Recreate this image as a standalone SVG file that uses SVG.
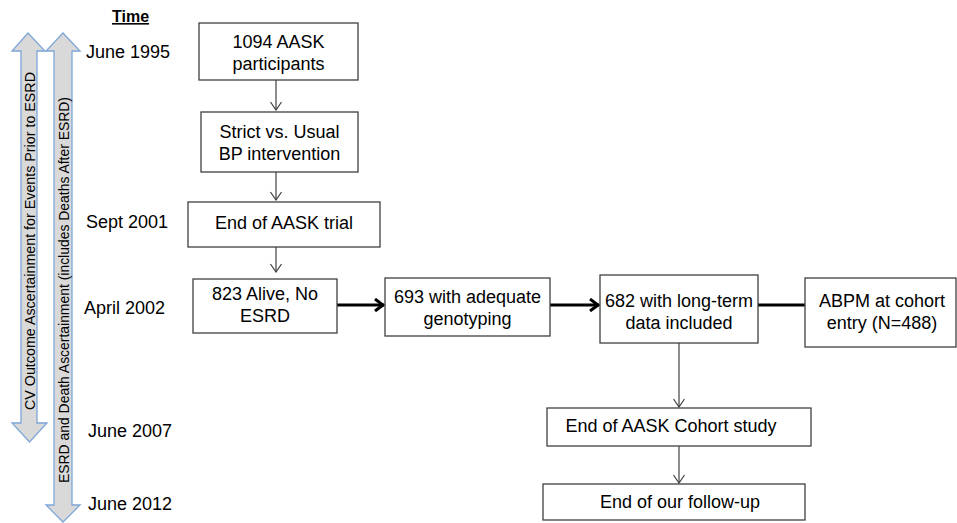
<svg xmlns="http://www.w3.org/2000/svg" width="957" height="523" viewBox="0 0 957 523">
<style>
text{font-family:"Liberation Sans",Arial,sans-serif;fill:#000}
.lbl{font-size:18px}
.box{fill:#fff;stroke:#404040;stroke-width:1.3}
.big{fill:#d9d9d9;stroke:#7ea6d8;stroke-width:1.3}
.rot{font-size:15px}
.thin{stroke:#404040;stroke-width:1.2;fill:none}
.thick{stroke:#000;stroke-width:3;fill:none}
</style>
<defs>
<marker id="open" markerWidth="12" markerHeight="12" refX="11" refY="6" orient="auto" markerUnits="userSpaceOnUse" viewBox="0 0 12 12">
<polyline points="3,0.5 11,6 3,11.5" fill="none" stroke="#404040" stroke-width="1.2"/>
</marker>
<marker id="thickhead" markerWidth="14" markerHeight="14" refX="13" refY="7" orient="auto" markerUnits="userSpaceOnUse" viewBox="0 0 14 14">
<polyline points="4,1 12,7 4,13" fill="none" stroke="#000" stroke-width="3"/>
</marker>
</defs>
<rect width="957" height="523" fill="#fff"/>

<g id="timeline">
<text x="112" y="22" font-size="16" font-weight="bold" text-decoration="underline">Time</text>
<path class="big" d="M28,33 L45,51 L37,51 L37,423 L47,423 L29.5,442 L12,423 L21,423 L21,51 L12,51 Z"/>
<text class="rot" transform="translate(34.5,241) rotate(-90)" text-anchor="middle" textLength="338" lengthAdjust="spacingAndGlyphs">CV Outcome Ascertainment for Events Prior to ESRD</text>
<path class="big" d="M63,33 L80,51 L72,51 L72,505 L80,505 L63,522 L46,505 L54,505 L54,51 L46,51 Z"/>
<text class="rot" transform="translate(68.5,290) rotate(-90)" text-anchor="middle" textLength="386" lengthAdjust="spacingAndGlyphs">ESRD and Death Ascertainment (includes Deaths After ESRD)</text>
<text class="lbl" x="86" y="58">June 1995</text>
<text class="lbl" x="86" y="228">Sept 2001</text>
<text class="lbl" x="84" y="314">April 2002</text>
<text class="lbl" x="88" y="437">June 2007</text>
<text class="lbl" x="88" y="510">June 2012</text>
</g>

<g id="connectors">
<line class="thin" x1="276" y1="80" x2="276" y2="110" marker-end="url(#open)"/>
<line class="thin" x1="276" y1="172" x2="276" y2="200" marker-end="url(#open)"/>
<line class="thin" x1="276" y1="247" x2="276" y2="272" marker-end="url(#open)"/>
<line class="thick" x1="337" y1="305" x2="384" y2="305" marker-end="url(#thickhead)"/>
<line class="thick" x1="550" y1="305" x2="599" y2="305" marker-end="url(#thickhead)"/>
<line class="thick" x1="758" y1="305" x2="805" y2="305"/>
<line class="thin" x1="679" y1="343" x2="679" y2="407" marker-end="url(#open)"/>
<line class="thin" x1="679" y1="446" x2="679" y2="483" marker-end="url(#open)"/>
</g>

<g id="n1"><rect class="box" x="199" y="23" width="159" height="57"/>
<text class="lbl" x="278.5" y="48" text-anchor="middle">1094 AASK</text>
<text class="lbl" x="278.5" y="70" text-anchor="middle">participants</text></g>
<g id="n2"><rect class="box" x="201" y="112" width="157" height="60"/>
<text class="lbl" x="279.5" y="138" text-anchor="middle">Strict vs. Usual</text>
<text class="lbl" x="279.5" y="160" text-anchor="middle">BP intervention</text></g>
<g id="n3"><rect class="box" x="188" y="202" width="192" height="45"/>
<text class="lbl" x="284" y="229" text-anchor="middle">End of AASK trial</text></g>
<g id="n4"><rect class="box" x="193" y="279" width="144" height="54"/>
<text class="lbl" x="265" y="300" text-anchor="middle">823 Alive, No</text>
<text class="lbl" x="265" y="322" text-anchor="middle">ESRD</text></g>
<g id="n5"><rect class="box" x="385" y="278" width="165" height="58"/>
<text class="lbl" x="467.5" y="303" text-anchor="middle">693 with adequate</text>
<text class="lbl" x="467.5" y="325" text-anchor="middle">genotyping</text></g>
<g id="n6"><rect class="box" x="600" y="275" width="158" height="68"/>
<text class="lbl" x="679" y="307" text-anchor="middle">682 with long-term</text>
<text class="lbl" x="679" y="329" text-anchor="middle">data included</text></g>
<g id="n7"><rect class="box" x="805" y="278" width="151" height="69"/>
<text class="lbl" x="882" y="307" text-anchor="middle">ABPM at cohort</text>
<text class="lbl" x="882" y="329" text-anchor="middle">entry (N=488)</text></g>
<g id="n8"><rect class="box" x="547" y="408" width="264" height="38"/>
<text class="lbl" x="671" y="432" text-anchor="middle">End of AASK Cohort study</text></g>
<g id="n9"><rect class="box" x="543" y="484" width="262" height="36"/>
<text class="lbl" x="680" y="508" text-anchor="middle">End of our follow-up</text></g>
</svg>
